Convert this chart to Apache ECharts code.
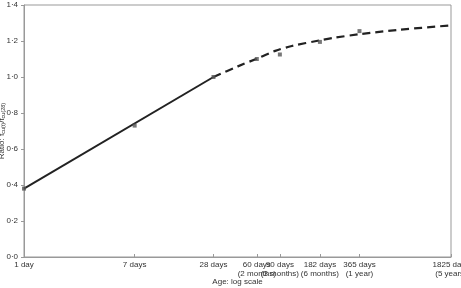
<!DOCTYPE html>
<html>
<head>
<meta charset="utf-8">
<script src="https://cdn.jsdelivr.net/npm/echarts@6/dist/echarts.min.js"></script>
<style>html,body{margin:0;padding:0;background:#fff}#c{width:461px;height:288px}</style>
</head>
<body>
<div id="c"></div>
<script>
// Observed data (age in days, strength ratio)
const pointDays = [1, 7, 28, 60, 90, 182, 365];
const pointRatios = [0.38, 0.73, 1.0, 1.10, 1.125, 1.195, 1.255];

// Solid fitted line (1–28 days)
const solidDays = [1, 28];
const solidRatios = [0.38, 1.0];

// Dashed fitted curve (28–1825 days)
const dashDays = [28, 43, 60, 83, 111, 182, 230, 365, 730, 1825];
const dashRatios = [1.0, 1.059, 1.102, 1.145, 1.172, 1.204, 1.217, 1.238, 1.262, 1.287];

// Axis ticks
const tickDays = [1, 7, 28, 60, 90, 182, 365, 1825];
const tickLabels = ['1 day', '7 days', '28 days', '60 days\n(2 months)', '90 days\n(3 months)', '182 days\n(6 months)', '365 days\n(1 year)', '1825 days\n(5 years)'];
const yTicks = [0, 0.2, 0.4, 0.6, 0.8, 1.0, 1.2, 1.4];

const zip = (a, b) => a.map((v, i) => [v, b[i]]);
const labelMap = {};
tickDays.forEach((d, i) => labelMap[d] = tickLabels[i]);

const font = 'Liberation Sans, Arial, sans-serif';
const chart = echarts.init(document.getElementById('c'), null, {renderer: 'canvas'});
chart.setOption({
  animation: false,
  backgroundColor: '#fff',
  grid: {left: 24, right: 10, top: 5, bottom: 31, containLabel: false, outerBoundsMode: 'none',
         show: true, borderColor: '#999', borderWidth: 1, backgroundColor: 'transparent'},
  xAxis: {
    type: 'log', logBase: 10, min: 1, max: 1825,
    name: 'Age: log scale', nameLocation: 'middle', nameGap: 21, nameMoveOverlap: false,
    nameTextStyle: {fontFamily: font, fontSize: 8, color: '#333'},
    axisLine: {lineStyle: {color: '#999', width: 1}},
    splitLine: {show: false},
    axisTick: {show: true, inside: true, length: 3, customValues: tickDays, lineStyle: {color: '#999'}},
    minorTick: {show: false},
    axisLabel: {
      customValues: tickDays, fontFamily: font, fontSize: 8, color: '#333', margin: 3, lineHeight: 9.5,
      hideOverlap: false, showMinLabel: true, showMaxLabel: true,
      formatter: v => labelMap[Math.round(v)] || ''
    }
  },
  yAxis: {
    type: 'value', min: 0, max: 1.4, interval: 0.2,
    name: 'Ratio: f{sub|cu(t)}/f{sub|cu(28)}', nameLocation: 'middle', nameGap: 18, nameMoveOverlap: false,
    nameTextStyle: {fontFamily: font, fontSize: 8, color: '#333', rich: {sub: {fontFamily: font, fontSize: 5.5, color: '#333', padding: [3, 0, 0, 0]}}},
    axisLine: {show: true, lineStyle: {color: '#999', width: 1}},
    axisTick: {show: true, inside: false, length: 3, lineStyle: {color: '#999'}},
    splitLine: {show: false},
    axisLabel: {fontFamily: font, fontSize: 8, color: '#333', margin: 6, formatter: v => v.toFixed(1).replace('.', '·')}
  },
  series: [
    {
      type: 'line', data: zip(solidDays, solidRatios), showSymbol: false, symbol: 'none',
      lineStyle: {color: '#222', width: 2}, z: 3
    },
    {
      type: 'line', data: zip(dashDays, dashRatios), showSymbol: false, symbol: 'none', smooth: 0.3,
      lineStyle: {color: '#222', width: 2.2, type: [8, 5]}, z: 3
    },
    {
      type: 'scatter', data: zip(pointDays, pointRatios), symbol: 'rect', symbolSize: 4,
      itemStyle: {color: '#555'}, z: 4
    }
  ]
});
</script>
</body>
</html>
